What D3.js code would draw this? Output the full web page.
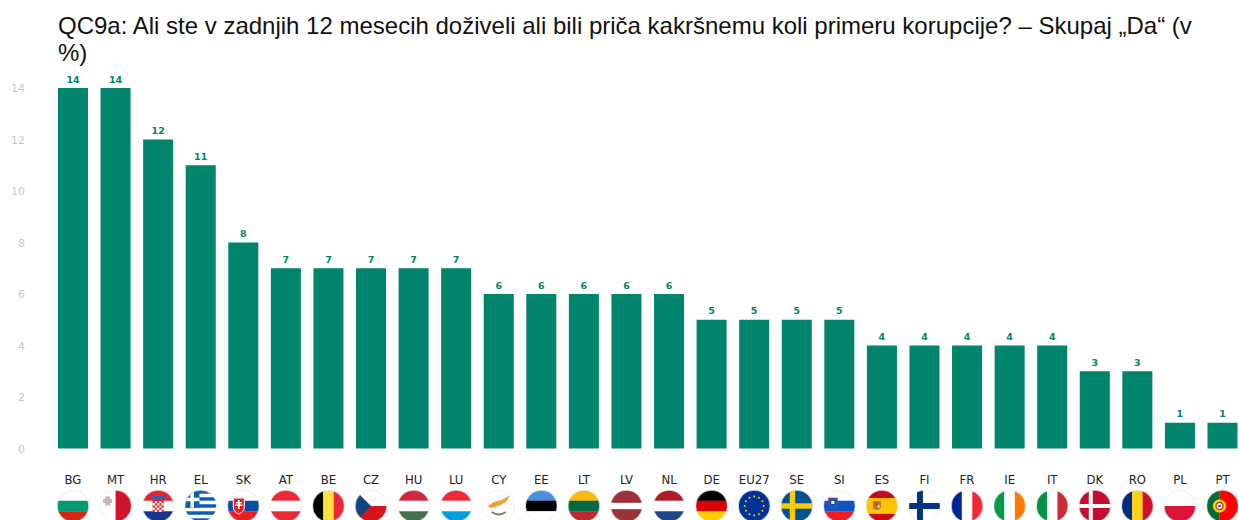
<!DOCTYPE html>
<html><head><meta charset="utf-8">
<script src="https://cdnjs.cloudflare.com/ajax/libs/d3/7.8.5/d3.min.js"></script>
<style>
html,body{margin:0;padding:0;background:#fff;overflow:hidden}
svg{display:block}
</style></head><body><svg id="c" width="1239" height="520"></svg>
<script>
const titleLines = ["QC9a: Ali ste v zadnjih 12 mesecih doživeli ali bili priča kakršnemu koli primeru korupcije? – Skupaj „Da“ (v", "%)"];
const categories = ["BG","MT","HR","EL","SK","AT","BE","CZ","HU","LU","CY","EE","LT","LV","NL","DE","EU27","SE","SI","ES","FI","FR","IE","IT","DK","RO","PL","PT"];
const values = [14,14,12,11,8,7,7,7,7,7,6,6,6,6,6,5,5,5,5,4,4,4,4,4,3,3,1,1];
const yTicks = [0,2,4,6,8,10,12,14];

const svg = d3.select("#c");
const x = d3.scaleBand().domain(categories).range([58,1237.5]).paddingInner(0.295).paddingOuter(0);
const y = d3.scaleLinear().domain([0,14]).range([448.5,88]);

svg.append("g").selectAll("text").data(titleLines).join("text")
  .attr("x",58).attr("y",(d,i)=>34+i*27)
  .attr("font-family","'Liberation Sans',Arial,sans-serif").attr("font-size",24).attr("fill","#111")
  .text(d=>d);

const ax = svg.append("g").attr("transform","translate(25,0)").call(d3.axisLeft(y).tickValues(yTicks).tickSize(0).tickPadding(0));
ax.select(".domain").remove();
ax.selectAll("text").attr("font-family","'DejaVu Sans',sans-serif").attr("font-size",11).attr("fill","#cfc6c0");

svg.append("g").selectAll("rect").data(categories).join("rect")
  .attr("x",d=>x(d)).attr("width",x.bandwidth())
  .attr("y",(d,i)=>y(values[i])).attr("height",(d,i)=>y(0)-y(values[i]))
  .attr("fill","#00846b");

svg.append("g").selectAll("text").data(categories).join("text")
  .attr("x",d=>x(d)+x.bandwidth()/2).attr("y",(d,i)=>y(values[i])-5.5)
  .attr("text-anchor","middle").attr("font-family","'DejaVu Sans',sans-serif").attr("font-weight","bold")
  .attr("font-size",9.5).attr("fill","#00846b").text((d,i)=>values[i]);

svg.append("g").selectAll("text").data(categories).join("text")
  .attr("x",d=>x(d)+x.bandwidth()/2).attr("y",484)
  .attr("text-anchor","middle").attr("font-family","'DejaVu Sans',sans-serif").attr("font-size",13)
  .attr("fill","#222").style("font-stretch","condensed").text(d=>d);

// Flags: hs = horizontal stripes, vs = vertical stripes (colours, optional weights)
const R = 15.8;
function hs(g,cols,w){const W=w||cols.map(()=>1),T=d3.sum(W);let t=-R;cols.forEach((c,i)=>{const h=2*R*W[i]/T;g.append("rect").attr("x",-R).attr("y",t).attr("width",2*R).attr("height",h+.2).attr("fill",c);t+=h;});}
function vs(g,cols,w){const W=w||cols.map(()=>1),T=d3.sum(W);let t=-R;cols.forEach((c,i)=>{const h=2*R*W[i]/T;g.append("rect").attr("y",-R).attr("x",t).attr("height",2*R).attr("width",h+.2).attr("fill",c);t+=h;});}
function r(g,a,b,w,h,c){g.append("rect").attr("x",a).attr("y",b).attr("width",w).attr("height",h).attr("fill",c);}
const flags = {
 BG:g=>hs(g,["#fff","#009a72","#d62612"]),
 MT:g=>{vs(g,["#fff","#cf142b"]);r(g,-10.5,-9.5,5,9,"#c9b3b5");r(g,-12.5,-7,9,4,"#c9b3b5");},
 HR:g=>{hs(g,["#e8202a","#fff","#17358f"]);r(g,-5.5,-7,11,12,"#e8202a");for(let i=0;i<5;i++)for(let j=0;j<5;j++)if((i+j)%2)r(g,-5.5+i*2.2,-5+j*2.2,2.2,2.2,"#fff");r(g,-7,-10,14,4,"#3a5fa8");},
 EL:g=>{hs(g,["#0d5eaf","#fff","#0d5eaf","#fff","#0d5eaf","#fff","#0d5eaf","#fff","#0d5eaf"]);r(g,-R,-R,14.5,17.5,"#0d5eaf");r(g,-R,-8.3,14.5,3.5,"#fff");r(g,-10.3,-R,3.5,17.5,"#fff");},
 SK:g=>{hs(g,["#fff","#0b4ea2","#ee1c25"]);g.append("path").attr("d","M-10,-8H1V1Q1,6,-4.5,8Q-10,6,-10,1Z").attr("fill","#ee1c25").attr("stroke","#fff");r(g,-5.3,-6,1.6,9,"#fff");r(g,-7.5,-4,6,1.4,"#fff");r(g,-8.3,-1.5,7.6,1.4,"#fff");},
 AT:g=>hs(g,["#ed2939","#fff","#ed2939"]),
 BE:g=>vs(g,["#000","#fae042","#ed2939"]),
 CZ:g=>{hs(g,["#fff","#d7141a"]);g.append("path").attr("d",`M${-R},${-R}L0,0L${-R},${R}Z`).attr("fill","#11457e");},
 HU:g=>hs(g,["#cd2a3e","#fff","#436f4d"]),
 LU:g=>hs(g,["#ed2939","#fff","#00a1de"]),
 CY:g=>{g.append("path").attr("d","M-11,0L-5,-4L3,-6L12,-11L7,-4L2,-1L-3,1L-8,2Z").attr("fill","#e8a33d");g.append("path").attr("d","M-7,6Q0,11,7,6").attr("fill","none").attr("stroke","#6b8a5a").attr("stroke-width",1.8);},
 EE:g=>hs(g,["#4891d9","#000","#fff"]),
 LT:g=>hs(g,["#fdb913","#006a44","#c1272d"]),
 LV:g=>hs(g,["#9e3039","#fff","#9e3039"],[2,1,2]),
 NL:g=>hs(g,["#ae1c28","#fff","#21468b"]),
 DE:g=>hs(g,["#000","#dd0000","#ffce00"]),
 EU27:g=>{hs(g,["#003399"]);d3.range(12).forEach(i=>g.append("circle").attr("cx",9.5*Math.cos(i*Math.PI/6)).attr("cy",9.5*Math.sin(i*Math.PI/6)).attr("r",1).attr("fill","#ffcc00"));},
 SE:g=>{hs(g,["#005293"]);r(g,-R,-2.7,2*R,5.4,"#fecb00");r(g,-7,-R,5.4,2*R,"#fecb00");},
 SI:g=>{hs(g,["#fff","#0b57c4","#ed1c24"]);g.append("path").attr("d","M-11,-8H-2V-3Q-2,1,-6.5,3Q-11,1,-11,-3Z").attr("fill","#0b57c4").attr("stroke","#d9342b").attr("stroke-width",.7);r(g,-8,-5,3,3,"#fff");},
 ES:g=>{hs(g,["#c60b1e","#ffc400","#c60b1e"],[1,2,1]);g.append("path").attr("d","M-9,-5H-1V2Q-5,6,-9,2Z").attr("fill","#b5763a");r(g,-7,-3.5,2.5,3,"#c8393a");r(g,-4.5,-1,2.5,3,"#d9c06a");},
 FI:g=>{hs(g,["#fff"]);r(g,-R,-3,2*R,6,"#003580");r(g,-7.5,-R,6,2*R,"#003580");},
 FR:g=>vs(g,["#002395","#fff","#ed2939"]),
 IE:g=>vs(g,["#009a49","#fff","#ff7900"]),
 IT:g=>vs(g,["#009246","#fff","#ce2b37"]),
 DK:g=>{hs(g,["#c60c30"]);r(g,-R,-2,2*R,4,"#fff");r(g,-6,-R,4,2*R,"#fff");},
 RO:g=>vs(g,["#002b7f","#fcd116","#ce1126"]),
 PL:g=>hs(g,["#fff","#dc143c"]),
 PT:g=>{vs(g,["#046a38","#ff0000"],[2,3]);g.append("circle").attr("cx",-3).attr("r",6.5).attr("fill","#ffe000").attr("stroke","#c9a800").attr("stroke-width",.5);g.append("circle").attr("cx",-3).attr("r",3.6).attr("fill","#fff").attr("stroke","#d01c1f").attr("stroke-width",1.3);g.append("circle").attr("cx",-3).attr("r",1.3).attr("fill","#1c3f94");}
};
const defs = svg.append("defs");
defs.append("clipPath").attr("id","fc").append("circle").attr("r",R);
const fg = svg.append("g").selectAll("g").data(categories).join("g")
  .attr("transform",d=>`translate(${x(d)+x.bandwidth()/2},506)`);
fg.each(function(d){
  const sel=d3.select(this);
  const inner=sel.append("g").attr("clip-path","url(#fc)");
  flags[d](inner);
  sel.append("circle").attr("r",R).attr("fill","none").attr("stroke","#e6e6e6").attr("stroke-width",.6);
});
</script></body></html>
